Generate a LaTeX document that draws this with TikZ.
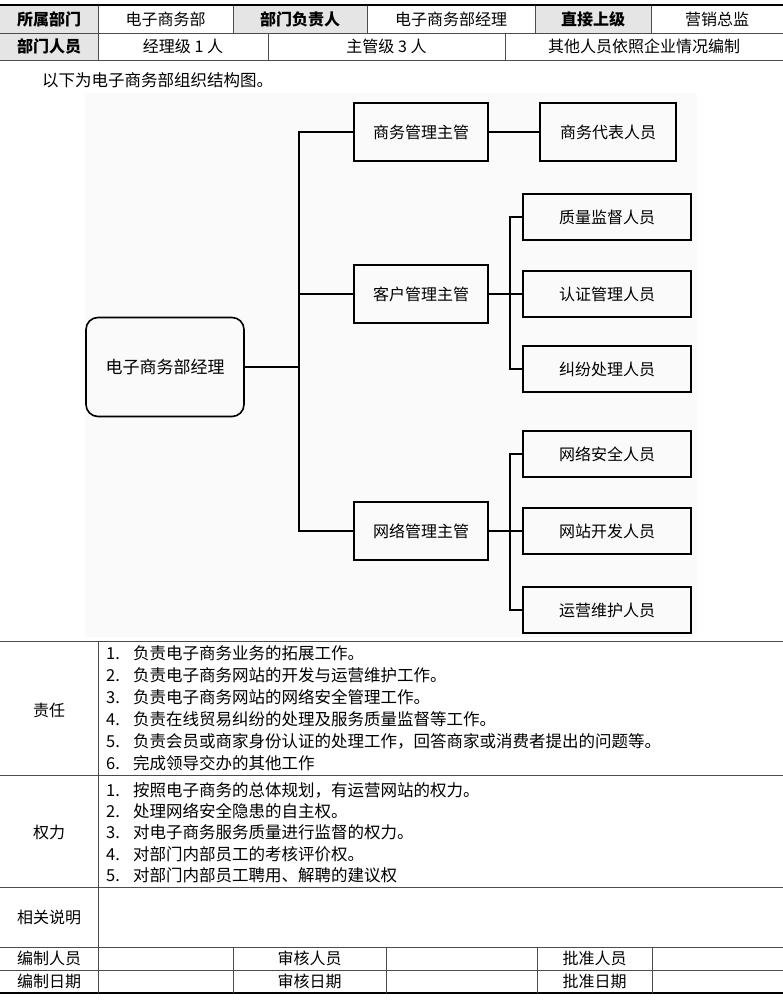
\documentclass[tikz,border=0pt]{standalone}
\usepackage{fontspec}
\setmainfont{Noto Sans CJK SC}
\usepackage{tikz}
\usetikzlibrary{positioning}

\begin{document}
\begin{tikzpicture}[x=1pt,y=-1pt,
    every node/.style={font=\fontsize{16}{20}\selectfont,inner sep=0pt},
    rule/.style={draw=black!70,line width=0.9pt},
    heavy/.style={draw=black,line width=2.8pt},
    head/.style={fill=black!10},
    label/.style={font=\fontsize{16}{20}\selectfont\bfseries},
    item/.style={anchor=west,font=\fontsize{16.5}{20}\selectfont},
    post/.style={draw,line width=1.6pt,minimum width=134pt,minimum height=58pt},
    staff/.style={draw,line width=1.6pt,minimum width=168pt,minimum height=46pt},
    link/.style={line width=1.3pt}]
  \useasboundingbox (0,0) rectangle (783,1000);
  % header table
  \fill[head] (0,6) rectangle (98,60);
  \fill[head] (233,6) rectangle (367,33);
  \fill[head] (535,6) rectangle (651,33);
  \draw[heavy] (0,5)--(783,5);
  \draw[rule] (0,33)--(783,33) (0,60)--(783,60);
  \draw[rule] (98,6)--(98,60) (233,6)--(233,33) (367,6)--(367,33) (535,6)--(535,33) (651,6)--(651,33);
  \draw[rule] (268,33)--(268,60) (505,33)--(505,60);
  \node[label] (dept) at (49,19.5) {所属部门};
  \node (deptv) at (165.5,19.5) {电子商务部};
  \node[label] (lead) at (300,19.5) {部门负责人};
  \node (leadv) at (451,19.5) {电子商务部经理};
  \node[label] (boss) at (593,19.5) {直接上级};
  \node (bossv) at (717,19.5) {营销总监};
  \node[label] (staffh) at (49,46.5) {部门人员};
  \node (mgrn) at (183,46.5) {经理级 1 人};
  \node (supn) at (386.5,46.5) {主管级 3 人};
  \node (othn) at (644,46.5) {其他人员依照企业情况编制};
  \node[item] (intro) at (42,80) {以下为电子商务部组织结构图。};
  % org chart
  \fill[black!2] (85,93) rectangle (697,637);
  \node[post,rounded corners=12pt,minimum width=158pt,minimum height=99pt,font=\fontsize{17}{20}\selectfont] (mgr) at (165,367) {电子商务部经理};
  \node[post] (biz) at (421,132) {商务管理主管};
  \node[post,minimum width=136pt] (rep) at (608,132) {商务代表人员};
  \node[post] (cust) at (421,294) {客户管理主管};
  \node[staff] (qual) at (607,217) {质量监督人员};
  \node[staff] (auth) at (607,294) {认证管理人员};
  \node[staff] (disp) at (607,369) {纠纷处理人员};
  \node[post] (net) at (421,531) {网络管理主管};
  \node[staff] (sec) at (607,454) {网络安全人员};
  \node[staff] (dev) at (607,531) {网站开发人员};
  \node[staff] (ops) at (607,610) {运营维护人员};
  \coordinate (trunk) at (299,0);
  \coordinate (fork) at (510,0);
  \draw[link] (mgr.east)--(mgr.east -| trunk);
  \draw[link] (biz.west)--(biz.west -| trunk)--(net.west -| trunk)--(net.west);
  \draw[link] (cust.west)--(cust.west -| trunk);
  \draw[link] (biz)--(rep);
  \draw[link] (qual.west)--(qual.west -| fork)--(disp.west -| fork)--(disp.west);
  \draw[link] (cust)--(auth);
  \draw[link] (sec.west)--(sec.west -| fork)--(ops.west -| fork)--(ops.west);
  \draw[link] (net)--(dev);
  % duties and rights
  \draw[rule] (0,641)--(783,641) (0,775)--(783,775) (0,887)--(783,887) (0,947)--(783,947) (0,970)--(783,970);
  \draw[heavy] (0,993)--(783,993);
  \draw[rule] (98,641)--(98,993) (233,947)--(233,993) (386,947)--(386,993) (537,947)--(537,993) (652,947)--(652,993);
  \node (duty) at (49,710) {责任};
  \node (right) at (49,832) {权力};
  \node (note) at (49,917) {相关说明};
  \foreach \txt [count=\i] in {{负责电子商务业务的拓展工作。},{负责电子商务网站的开发与运营维护工作。},{负责电子商务网站的网络安全管理工作。},{负责在线贸易纠纷的处理及服务质量监督等工作。},{负责会员或商家身份认证的处理工作，回答商家或消费者提出的问题等。},{完成领导交办的其他工作}}
    \node[item] (duty\i) at (106,631+22*\i) {\makebox[27pt][l]{\i.}\txt};
  \foreach \txt [count=\i] in {{按照电子商务的总体规划，有运营网站的权力。},{处理网络安全隐患的自主权。},{对电子商务服务质量进行监督的权力。},{对部门内部员工的考核评价权。},{对部门内部员工聘用、解聘的建议权}}
    \node[item] (right\i) at (106,769+21.2*\i) {\makebox[27pt][l]{\i.}\txt};
  % sign-off rows
  \node (maker) at (49,958.5) {编制人员};
  \node (makerd) at (49,981.5) {编制日期};
  \node (check) at (309.5,958.5) {审核人员};
  \node (checkd) at (309.5,981.5) {审核日期};
  \node (appr) at (594.5,958.5) {批准人员};
  \node (apprd) at (594.5,981.5) {批准日期};
\end{tikzpicture}
\end{document}
